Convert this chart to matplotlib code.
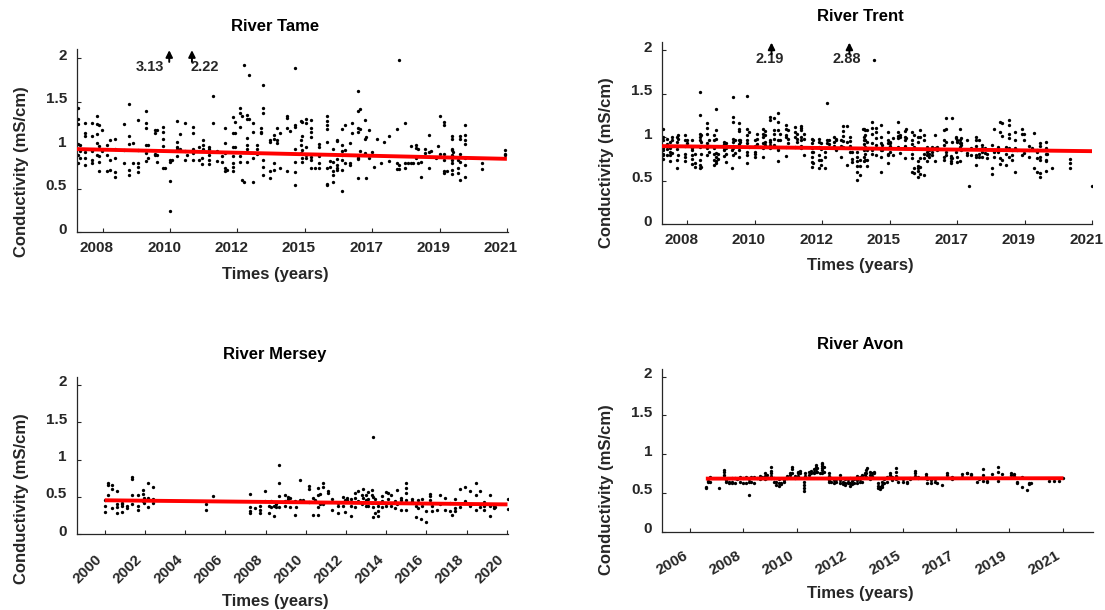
import numpy as np
import matplotlib.pyplot as plt
from matplotlib.transforms import ScaledTranslation

plt.rcParams['font.family'] = ['Liberation Sans', 'DejaVu Sans']
plt.rcParams['font.weight'] = 'bold'
plt.rcParams['axes.labelweight'] = 'bold'
plt.rcParams['axes.titleweight'] = 'bold'

# ---------------- data (conductivity in mS/cm, sampling dates in decimal years) ----------------
# River Tame
tame_dates = [2007.19, 2007.27, 2007.43, 2007.65, 2007.81, 2007.89, 2007.99, 2008.15, 2008.24, 2008.40,
              2008.67, 2008.86, 2008.99, 2009.15, 2009.40, 2009.47, 2009.69, 2009.76, 2009.93, 2010.01,
              2010.17, 2010.22, 2010.40, 2010.49, 2010.65, 2010.71, 2010.90, 2011.11, 2011.19, 2011.24,
              2011.43, 2011.54, 2011.67, 2011.83, 2011.94, 2011.99, 2012.19, 2012.26, 2012.40, 2012.48,
              2012.53, 2012.64, 2012.72, 2012.85, 2012.96, 2013.09, 2013.17, 2013.39, 2013.50, 2013.60,
              2013.69, 2013.92, 2014.03, 2014.19, 2014.38, 2014.42, 2014.53, 2014.70, 2014.83, 2014.96,
              2015.21, 2015.31, 2015.42, 2015.53, 2015.69, 2015.80, 2015.96, 2016.01, 2016.20, 2016.28,
              2016.44, 2016.46, 2016.58, 2016.65, 2016.72, 2016.82, 2016.95, 2017.06, 2017.21, 2017.46,
              2017.53, 2017.73, 2017.81, 2017.92, 2017.99, 2018.07, 2018.14, 2018.24, 2018.37, 2018.50,
              2018.56, 2018.71, 2018.78, 2018.84, 2018.99, 2019.07, 2019.23, 2019.28, 2019.42, 2019.50,
              2019.64, 2020.20, 2020.95]
tame_cond = [[1.43, 1.30, 1.24, 1.01, 0.89, 0.79], [1.00, 0.93, 0.85], [1.26, 1.14, 1.10, 0.92, 0.85, 0.77],
             [1.25, 1.11, 0.93, 0.83, 0.79], [1.34, 1.24, 1.13, 1.03, 0.89], [1.23, 0.99, 0.88, 0.81, 0.70],
             [1.17, 0.93], [1.00, 0.89, 0.70], [1.06, 0.83, 0.72], [1.07, 0.96, 0.85, 0.69, 0.63],
             [1.24, 0.95, 0.80], [1.47, 1.10, 1.01, 0.72, 0.66], [1.02, 0.80], [1.29, 0.95, 0.79, 0.75, 0.69],
             [1.39, 1.26, 1.20, 1.00, 0.91, 0.82], [1.00, 0.85], [1.17, 1.14, 0.90, 0.89], [1.17, 0.89, 0.81],
             [1.21, 1.15, 1.07, 0.99, 0.74], [0.74],
             [0.83, 0.81, 0.59, 0.25], [0.83], [1.28, 1.04, 0.98, 0.96, 0.87], [1.13, 0.96], [1.25, 0.93, 0.83],
             [0.89], [1.21, 1.14, 0.96, 0.91, 0.83], [0.98, 0.83], [0.85, 0.78], [1.06, 1.00, 0.96],
             [0.98, 0.96, 0.89, 0.83, 0.78], [1.56, 1.25], [0.93, 0.82], [0.87, 0.81], [1.20, 1.02, 0.91, 0.74, 0.70],
             [0.72], [1.32, 1.14, 0.98, 0.87, 0.79, 0.75, 0.70], [1.27, 1.14, 0.98], [1.43, 1.37, 1.21, 0.87, 0.81],
             [1.33, 0.60],
             [1.92, 0.58], [1.35, 1.30, 1.08, 1.00, 0.96, 0.81], [1.81, 1.30], [1.26, 1.15, 0.85, 0.58],
             [1.00, 0.96, 0.90], [1.20, 1.15, 1.14], [1.69, 1.43, 1.37, 0.83, 0.75, 0.66], [1.06, 1.04, 0.70, 0.62],
             [1.12, 1.07, 0.79, 0.72], [1.20, 1.06, 1.02],
             [1.14, 0.74], [1.33, 1.31, 1.20, 0.70], [1.16], [1.89, 1.23, 1.21, 0.96, 0.81, 0.69, 0.54],
             [1.28, 1.06, 1.00, 0.91], [1.27, 1.11, 0.94, 0.85, 0.81], [1.30, 1.25, 0.98, 0.89, 0.85],
             [1.29, 1.20, 1.15, 1.09, 0.86, 0.83, 0.74], [0.74], [1.01, 0.98, 0.88, 0.79, 0.74],
             [1.34, 1.28, 1.23, 1.18, 1.04, 0.74, 0.56, 0.54], [0.82, 0.75], [0.96, 0.81, 0.70, 0.66, 0.58],
             [1.06, 1.05, 0.84, 0.77, 0.74, 0.71], [1.18, 1.00, 0.93, 0.89, 0.83, 0.72, 0.47], [1.23, 0.94, 0.79],
             [1.02, 0.79, 0.77], [1.26, 1.14], [1.62, 1.39, 1.20, 1.15, 0.87, 0.85, 0.84, 0.62], [1.41, 1.18, 0.93],
             [1.29, 1.07, 0.91], [1.09, 0.62], [1.17, 0.85], [0.92], [0.75], [1.07], [0.79], [1.04], [1.10, 0.82],
             [1.18, 0.79, 0.73],
             [1.98, 0.77, 0.73], [1.26, 0.79, 0.74], [0.80], [0.99, 0.79], [0.80], [1.00, 0.97, 0.85], [0.96, 0.80],
             [0.81, 0.63], [0.96, 0.91], [1.12, 0.92, 0.74],
             [0.93], [0.85], [0.99], [1.33, 0.90], [1.27, 1.23, 0.90, 0.83, 0.70, 0.68], [0.70],
             [1.11, 1.07, 0.96, 0.94, 0.89, 0.83, 0.79, 0.72, 0.67], [0.92], [0.83, 0.74, 0.68],
             [1.10, 1.07, 0.90, 0.86, 0.81, 0.60],
             [1.23, 1.12, 1.06, 1.01, 0.85, 0.77, 0.63], [0.73, 0.79], [0.94, 0.90, 0.89]]
tame_trend_dates = [2007.16, 2021.0]
tame_trend = [0.955, 0.843]
tame_peak_dates = [2010.14, 2010.87]
tame_peaks = [3.13, 2.22]

# River Trent
trent_dates = [2007.20, 2007.35, 2007.43, 2007.51, 2007.65, 2007.70, 2007.91, 2007.97, 2008.16, 2008.24,
               2008.40, 2008.45, 2008.64, 2008.70, 2008.85, 2008.91, 2008.99, 2009.17, 2009.23, 2009.42,
               2009.47, 2009.52, 2009.66, 2009.70, 2009.92, 2009.98, 2010.17, 2010.24, 2010.43, 2010.49,
               2010.65, 2010.78, 2010.92, 2010.97, 2011.18, 2011.24, 2011.45, 2011.51, 2011.64, 2011.74,
               2011.99, 2012.04, 2012.22, 2012.29, 2012.42, 2012.47, 2012.56, 2012.71, 2012.77, 2012.92,
               2012.99, 2013.11, 2013.22, 2013.27, 2013.43, 2013.54, 2013.63, 2013.66, 2013.71, 2013.77,
               2013.93, 2013.98, 2014.04, 2014.20, 2014.25, 2014.44, 2014.52, 2014.59, 2014.76, 2014.84,
               2014.98, 2015.02, 2015.21, 2015.27, 2015.41, 2015.48, 2015.59, 2015.70, 2015.77, 2015.84,
               2015.96, 2016.02, 2016.23, 2016.29, 2016.45, 2016.50, 2016.61, 2016.66, 2016.74, 2016.80,
               2016.98, 2017.04, 2017.09, 2017.27, 2017.36, 2017.46, 2017.57, 2017.63, 2017.77, 2017.84,
               2017.98, 2018.05, 2018.11, 2018.24, 2018.32, 2018.43, 2018.52, 2018.59, 2018.75, 2018.80,
               2018.97, 2019.05, 2019.13, 2019.23, 2019.31, 2019.52, 2019.56, 2019.69, 2020.27, 2021.00]
trent_cond = [[1.10, 1.00, 0.97, 0.90, 0.88, 0.85, 0.81, 0.79, 0.75], [0.98, 0.92, 0.86, 0.80],
              [0.95, 0.87, 0.83, 0.79, 0.72], [1.00, 0.97, 0.82], [1.00, 0.95, 0.90, 0.86, 0.74, 0.65],
              [1.02, 0.98, 0.79], [1.03, 0.97, 0.90, 0.81, 0.77, 0.73], [0.97, 0.93],
              [0.97, 0.87, 0.85, 0.79, 0.75, 0.69], [0.81, 0.70, 0.66],
              [1.52, 1.26, 1.04, 1.00, 0.97, 0.89, 0.74, 0.68, 0.64], [1.02, 0.95, 0.81, 0.66],
              [1.16, 1.11, 1.04, 0.93, 0.87, 0.79], [0.97, 0.90, 0.83], [1.02, 0.97, 0.87, 0.81, 0.74, 0.68],
              [1.32, 1.08, 0.98, 0.82, 0.77, 0.73, 0.70], [0.81, 0.75], [0.95, 0.92, 0.88, 0.85, 0.78],
              [0.93, 0.87, 0.81, 0.71], [0.85, 0.64],
              [1.46, 1.23, 1.18, 0.98, 0.95, 0.90, 0.87, 0.79], [0.97, 0.82], [1.16, 1.10, 1.07, 0.97, 0.92, 0.85, 0.77],
              [0.97, 0.94, 0.89], [1.48, 1.09, 1.02, 0.97, 0.93, 0.83, 0.79, 0.70], [1.06, 0.89],
              [0.97, 0.90, 0.83, 0.81, 0.77], [1.04, 0.98, 0.92], [1.10, 1.04, 1.00, 0.93, 0.87, 0.77],
              [1.07, 1.02, 0.95, 0.91],
              [1.23, 1.20, 0.97, 0.95, 0.91, 0.87], [1.22, 1.08, 1.04, 0.98, 0.91],
              [1.28, 1.17, 1.08, 0.97, 0.87, 0.85, 0.73], [1.04, 0.97], [1.14, 1.10, 1.02, 1.00, 0.89, 0.78],
              [1.08, 0.98, 0.93], [1.12, 1.06, 1.00, 0.89], [1.04, 0.98, 0.95],
              [1.13, 1.11, 1.08, 1.00, 0.97, 0.90, 0.88], [1.04, 0.98, 0.79],
              [0.98, 0.93, 0.87, 0.83, 0.77, 0.71, 0.66], [0.97, 0.83, 0.70], [0.98, 0.95, 0.89, 0.79, 0.74, 0.64],
              [0.93, 0.86, 0.74, 0.68], [0.83, 0.77, 0.65], [1.39, 0.97, 0.93], [0.97, 0.92], [1.00, 0.95, 0.90],
              [0.98, 0.97, 0.85], [0.97, 0.90, 0.77],
              [1.13, 1.07, 1.01, 0.96, 0.89], [1.13, 0.95, 0.68], [1.00, 0.96, 0.90, 0.83], [0.83, 0.75, 0.71],
              [0.83, 0.77, 0.72, 0.67, 0.60, 0.51], [0.74, 0.67, 0.57], [1.09], [1.09, 1.00, 0.97, 0.92, 0.85, 0.77, 0.72],
              [1.08, 1.02, 0.97, 0.89, 0.81, 0.74], [1.08, 0.95, 0.85, 0.74, 0.67],
              [1.17, 1.11, 1.04, 0.93, 0.85, 0.81], [1.885], [1.11, 1.06, 0.99, 0.91, 0.79],
              [1.14, 1.00, 0.93, 0.85, 0.77, 0.60], [0.91, 0.85], [1.06, 0.97, 0.93, 0.88, 0.81, 0.79, 0.70],
              [0.95, 0.93, 0.90, 0.83], [0.99, 0.79], [1.18, 1.06, 1.01, 0.99, 0.89], [1.02, 1.00, 0.82],
              [1.07, 1.00, 0.97, 0.90, 0.87, 0.76], [1.10, 0.99], [1.06, 0.97, 0.92, 0.86, 0.81, 0.76, 0.60],
              [1.02, 0.89, 0.64, 0.59], [1.00, 0.95, 0.72, 0.67, 0.64, 0.61, 0.54], [1.08, 1.00, 0.76, 0.66, 0.58],
              [1.02, 0.97, 0.81, 0.76, 0.56], [0.89, 0.83, 0.79, 0.73], [0.85, 0.81, 0.77], [0.89, 0.83, 0.79],
              [1.02, 0.88, 0.72], [0.89, 0.85], [1.08, 0.97, 0.91, 0.77, 0.74], [1.22, 1.10, 0.94, 0.83, 0.79],
              [0.78, 0.76, 0.72, 0.70], [1.22, 0.95, 0.76], [1.00, 0.99, 0.83], [0.97, 0.95, 0.77, 0.71],
              [1.10, 0.97, 0.93, 0.89, 0.73], [0.99, 0.93, 0.91, 0.85],
              [0.97, 0.82, 0.79], [0.44], [0.87, 0.79], [1.00, 0.97, 0.90, 0.79, 0.77, 0.68], [0.97, 0.81, 0.77],
              [0.91, 0.88, 0.83, 0.77], [0.87, 0.82], [0.81, 0.76], [0.91, 0.64, 0.58], [1.10, 0.83, 0.77],
              [0.89, 0.83], [1.18, 1.06, 0.76, 0.69], [1.16, 1.01, 0.74], [0.89, 0.81, 0.68],
              [1.20, 1.14, 1.04, 0.99, 0.87, 0.77], [0.85, 0.79, 0.74], [1.06, 0.97, 0.88, 0.60], [0.85],
              [1.10, 1.04, 0.79], [1.04, 0.97, 0.82],
              [0.90, 0.85, 0.77], [0.88], [1.05, 0.64], [0.85, 0.83, 0.76, 0.60], [0.93, 0.90, 0.77, 0.74, 0.59, 0.54],
              [0.95, 0.87, 0.85, 0.81, 0.74, 0.72, 0.61], [0.81], [0.64], [0.75, 0.70, 0.65], [0.44]]
trent_trend_dates = [2007.18, 2021.0]
trent_trend = [0.897, 0.839]
trent_peak_dates = [2010.70, 2013.20]
trent_peaks = [2.19, 2.88]

# River Mersey
mersey_dates = [2000.00, 2000.18, 2000.38, 2000.63, 2000.88, 2001.13, 2001.35, 2001.63, 2001.88, 2001.96,
                2002.13, 2002.38, 2005.04, 2005.37, 2007.23, 2007.45, 2007.70, 2007.98, 2008.16, 2008.25,
                2008.41, 2008.53, 2008.66, 2008.94, 2009.11, 2009.19, 2009.44, 2009.53, 2009.69, 2009.86,
                2010.14, 2010.36, 2010.44, 2010.61, 2010.69, 2010.86, 2011.11, 2011.32, 2011.60, 2011.85,
                2011.94, 2012.05, 2012.27, 2012.44, 2012.60, 2012.77, 2012.85, 2012.98, 2013.10, 2013.27,
                2013.32, 2013.43, 2013.60, 2013.77, 2014.01, 2014.10, 2014.26, 2014.43, 2014.51, 2014.71,
                2014.98, 2015.26, 2015.48, 2015.59, 2015.71, 2015.76, 2015.98, 2016.18, 2016.26, 2016.51,
                2016.67, 2016.92, 2017.17, 2017.25, 2017.42, 2017.67, 2017.92, 2018.17, 2018.47, 2018.67,
                2018.84, 2019.14, 2019.34, 2019.42, 2020.03]
mersey_cond = [[0.46, 0.375, 0.30], [0.68, 0.665, 0.53], [0.665, 0.60, 0.35], [0.58, 0.40, 0.37, 0.28],
               [0.42, 0.40, 0.375, 0.295], [0.375, 0.35], [0.77, 0.745, 0.53, 0.41], [0.53, 0.385, 0.33],
               [0.59, 0.545, 0.44], [0.49, 0.46, 0.42],
               [0.68, 0.49, 0.37], [0.63, 0.47, 0.42], [0.41, 0.33], [0.51], [0.545, 0.37, 0.31, 0.28], [0.35],
               [0.375, 0.32, 0.28], [0.58, 0.44], [0.375, 0.285], [0.44, 0.366],
               [0.375, 0.25], [0.41, 0.366], [0.93, 0.68, 0.51, 0.37], [0.53, 0.44, 0.375], [0.50, 0.47],
               [0.49, 0.366], [0.44, 0.26], [0.366], [0.73, 0.455], [0.46, 0.44],
               [0.64, 0.60, 0.43], [0.48, 0.26], [0.46, 0.44], [0.62, 0.53, 0.37, 0.26], [0.545, 0.41],
               [0.68, 0.63, 0.40], [0.575, 0.55], [0.47, 0.32], [0.42, 0.375, 0.285], [0.50, 0.375],
               [0.46, 0.295], [0.49, 0.455], [0.47, 0.375, 0.25], [0.55, 0.49, 0.37], [0.44, 0.575], [0.53, 0.41],
               [0.61, 0.49], [0.53, 0.46, 0.385], [0.56, 0.47, 0.375], [0.59, 0.52, 0.42],
               [1.295, 0.50, 0.37, 0.23], [0.47, 0.285], [0.375, 0.31, 0.25], [0.51, 0.44, 0.37], [0.56, 0.375],
               [0.47, 0.55], [0.53, 0.375], [0.44, 0.35], [0.59, 0.41], [0.49, 0.46, 0.33],
               [0.69, 0.62, 0.55, 0.46, 0.33], [0.47, 0.44], [0.385, 0.23], [0.46, 0.35], [0.205], [0.47, 0.375],
               [0.31, 0.16], [0.545, 0.51, 0.46, 0.42], [0.375, 0.31], [0.33],
               [0.53, 0.41], [0.49, 0.33], [0.42, 0.31], [0.26], [0.47, 0.35, 0.31], [0.61, 0.37], [0.63, 0.44],
               [0.575, 0.385], [0.69, 0.53, 0.33], [0.575, 0.366],
               [0.43, 0.375, 0.33], [0.53, 0.375, 0.25], [0.375, 0.35], [0.366], [0.47, 0.34]]
mersey_trend_dates = [2000.0, 2020.03]
mersey_trend = [0.455, 0.40]

# River Avon
avon_dates = [2006.63, 2006.70, 2006.74, 2006.81, 2007.14, 2007.37, 2007.45, 2007.55, 2007.68, 2007.81,
              2007.88, 2008.02, 2008.12, 2008.26, 2008.35, 2008.45, 2008.58, 2008.69, 2008.82, 2008.89,
              2009.02, 2009.09, 2009.25, 2009.36, 2009.47, 2009.56, 2009.66, 2009.79, 2009.90, 2010.03,
              2010.10, 2010.23, 2010.33, 2010.44, 2010.57, 2010.64, 2010.77, 2010.87, 2010.97, 2011.08,
              2011.11, 2011.21, 2011.31, 2011.38, 2011.58, 2011.67, 2011.78, 2011.89, 2012.05, 2012.16,
              2012.25, 2012.34, 2012.45, 2012.52, 2012.61, 2012.72, 2012.83, 2012.92, 2013.02, 2013.10,
              2013.12, 2013.23, 2013.33, 2013.39, 2013.55, 2013.63, 2013.73, 2013.82, 2013.93, 2014.04,
              2014.13, 2014.27, 2014.36, 2014.58, 2014.74, 2014.87, 2015.07, 2015.16, 2015.48, 2015.54,
              2015.68, 2015.84, 2015.92, 2016.15, 2016.35, 2016.55, 2016.96, 2017.13, 2017.32, 2017.56,
              2017.63, 2017.80, 2017.94, 2018.16, 2018.39, 2018.57, 2018.93, 2019.06, 2019.15, 2019.38,
              2019.58, 2019.64, 2019.73, 2020.45, 2020.65, 2020.85, 2021.03]
avon_cond = [[0.58, 0.56], [0.645, 0.66], [0.69], [0.71, 0.645], [0.56], [0.80, 0.77, 0.73, 0.70], [0.667, 0.645],
             [0.645, 0.624], [0.688, 0.645, 0.632], [0.624, 0.688],
             [0.675], [0.71, 0.645], [0.688, 0.632], [0.701, 0.624], [0.473, 0.645, 0.675], [0.701, 0.645],
             [0.71, 0.632], [0.688], [0.718, 0.675], [0.71],
             [0.753, 0.718, 0.675], [0.731, 0.688], [0.83, 0.787, 0.753, 0.718, 0.688], [0.688, 0.645],
             [0.645, 0.602], [0.675, 0.632, 0.589], [0.632, 0.615], [0.667, 0.645], [0.718, 0.688], [0.761, 0.731],
             [0.839, 0.804, 0.753], [0.718, 0.688], [0.774, 0.753, 0.718], [0.787, 0.753],
             [0.645, 0.602, 0.559, 0.529], [0.753, 0.718], [0.774, 0.731], [0.787, 0.761], [0.804, 0.774, 0.753],
             [0.86, 0.839, 0.804, 0.774],
             [0.817, 0.774], [0.753], [0.89, 0.873, 0.847, 0.817, 0.796, 0.753], [0.839, 0.774],
             [0.753, 0.718, 0.667, 0.645], [0.688, 0.645], [0.667, 0.632], [0.675, 0.645], [0.731, 0.667, 0.632],
             [0.645, 0.615],
             [0.675, 0.632, 0.602], [0.675, 0.645, 0.624], [0.688, 0.632, 0.589], [0.658, 0.615], [0.675, 0.632],
             [0.718, 0.667, 0.624], [0.71, 0.675, 0.645], [0.731, 0.701, 0.645], [0.761, 0.731], [0.796, 0.753, 0.71],
             [0.817], [0.774, 0.731, 0.675], [0.761, 0.718], [0.774, 0.753], [0.624, 0.589, 0.559], [0.581, 0.546],
             [0.645, 0.602, 0.572], [0.675, 0.632], [0.701, 0.645], [0.761, 0.731],
             [0.701, 0.667], [0.817, 0.774, 0.718, 0.675], [0.688, 0.645], [0.675, 0.645], [0.645, 0.624],
             [0.688, 0.675], [0.787, 0.753, 0.718], [0.71, 0.688], [0.744, 0.718], [0.675, 0.632],
             [0.667, 0.632], [0.675, 0.645], [0.624], [0.602], [0.761, 0.731], [0.71, 0.675], [0.744, 0.71],
             [0.761, 0.753], [0.744, 0.731], [0.645],
             [0.675], [0.804, 0.731, 0.658], [0.658, 0.645], [0.744], [0.839, 0.774, 0.658], [0.744], [0.753, 0.731],
             [0.744, 0.718], [0.645, 0.624], [0.71, 0.581],
             [0.538], [0.624, 0.615], [0.624], [0.658], [0.658], [0.658], [0.688]]
avon_trend_dates = [2006.63, 2021.03]
avon_trend = [0.685, 0.69]

# axis ticks (MATLAB datetime ruler, evenly spaced ticks)
tame_ticks = np.linspace(2008, 2021, 7)
tame_ticklabels = ['2008', '2010', '2012', '2015', '2017', '2019', '2021']
mersey_ticks = np.arange(2000, 2021, 2)
mersey_ticklabels = [str(y) for y in range(2000, 2021, 2)]
avon_ticks = np.linspace(2006, 2021, 8)
avon_ticklabels = ['2006', '2008', '2010', '2012', '2015', '2017', '2019', '2021']

# ---------------- figure ----------------
W, H = 1105, 610
fig = plt.figure(figsize=(W / 100, H / 100), dpi=100)
dark = '#262626'


def add_axes_px(left, top, right, bottom):
    return fig.add_axes([left / W, 1 - bottom / H, (right - left) / W, (bottom - top) / H])


def panel(ax, title, dates, cond, trend_x, trend_y, xlim, ticks, ticklabels,
          rot=0, xlab_y=-0.23, ylab_y=0.33, title_y=1.13, xpad=6.5):
    x = np.repeat(dates, [len(c) for c in cond])
    y = np.concatenate([np.array(c, dtype=float) for c in cond])
    ax.plot(x, y, 'o', color='k', ms=2.4, mew=0, zorder=2)
    ax.plot(trend_x, trend_y, '-', color='#ff0000', lw=2.8, zorder=3, solid_capstyle='butt')

    ax.set_xlim(*xlim)
    ax.set_ylim(0, 2.1)
    ax.set_yticks([0, 0.5, 1, 1.5, 2])
    ax.set_yticklabels(['0', '0.5', '1', '1.5', '2'])
    ax.set_xticks(ticks)
    if rot:
        ax.set_xticklabels(ticklabels, rotation=rot, ha='right')
    else:
        ax.set_xticklabels(ticklabels)

    for s in ['top', 'right']:
        ax.spines[s].set_visible(False)
    for s in ['left', 'bottom']:
        ax.spines[s].set_color(dark)
        ax.spines[s].set_linewidth(0.9)
    ax.tick_params(axis='both', direction='in', length=3, width=0.8, color=dark,
                   labelsize=11, labelcolor=dark)
    ax.tick_params(axis='y', pad=7)
    ax.tick_params(axis='x', pad=xpad)

    # MATLAB-like nudges of tick labels
    if not rot:
        for lab in ax.get_xticklabels():
            lab.set_transform(lab.get_transform() + ScaledTranslation(-0.06, 0, fig.dpi_scale_trans))
    for lab in ax.get_yticklabels():
        lab.set_transform(lab.get_transform() + ScaledTranslation(0, 0.04, fig.dpi_scale_trans))

    ax.set_title(title, fontsize=12, color='k', x=0.46, y=title_y, va='center', pad=0)
    ax.set_xlabel('Times (years)', fontsize=12, color=dark)
    ax.xaxis.set_label_coords(0.46, xlab_y)
    ax.xaxis.label.set_va('center')
    ax.set_ylabel('Conductivity (mS/cm)', fontsize=12, color=dark)
    ax.yaxis.set_label_coords(-0.128, ylab_y)
    ax.yaxis.label.set_va('center')


def peak_marks(ax, dates, peaks, dx, ha):
    for d, p, off, a in zip(dates, peaks, dx, ha):
        ax.annotate('', xy=(d, 2.09), xytext=(d, 1.955),
                    arrowprops=dict(arrowstyle='-|>', color='k', lw=1.4, mutation_scale=10,
                                    shrinkA=0, shrinkB=0), annotation_clip=False, zorder=5)
        ax.annotate(f'{p:.2f}', xy=(d, 1.895), xytext=(off, 0), textcoords='offset points',
                    ha=a, va='center', fontsize=10.5, color=dark, zorder=4)


ax1 = add_axes_px(76.6, 49.3, 507.5, 232.3)
panel(ax1, 'River Tame', tame_dates, tame_cond, tame_trend_dates, tame_trend,
      (2007.16, 2021.02), tame_ticks, tame_ticklabels,
      xlab_y=-0.2295, ylab_y=0.331, title_y=1.127)
peak_marks(ax1, tame_peak_dates, tame_peaks, [-3.4, -1.0], ['right', 'left'])

ax2 = add_axes_px(661.9, 41.7, 1092.3, 224.0)
panel(ax2, 'River Trent', trent_dates, trent_cond, trent_trend_dates, trent_trend,
      (2007.18, 2021.0), tame_ticks, tame_ticklabels,
      xlab_y=-0.229, ylab_y=0.335, title_y=1.137)
peak_marks(ax2, trent_peak_dates, trent_peaks, [-1.4, -2.0], ['center', 'center'])

ax3 = add_axes_px(76.6, 377.3, 507.5, 534.3)
panel(ax3, 'River Mersey', mersey_dates, mersey_cond, mersey_trend_dates, mersey_trend,
      (1998.6, 2020.03), mersey_ticks, mersey_ticklabels, rot=45,
      xlab_y=-0.429, ylab_y=0.23, title_y=1.148, xpad=13)

ax4 = add_axes_px(661.9, 369.0, 1092.7, 531.7)
panel(ax4, 'River Avon', avon_dates, avon_cond, avon_trend_dates, avon_trend,
      (2004.86, 2022.21), avon_ticks, avon_ticklabels, rot=30,
      xlab_y=-0.379, ylab_y=0.256, title_y=1.148, xpad=12)

fig.savefig('out.png', dpi=100)
